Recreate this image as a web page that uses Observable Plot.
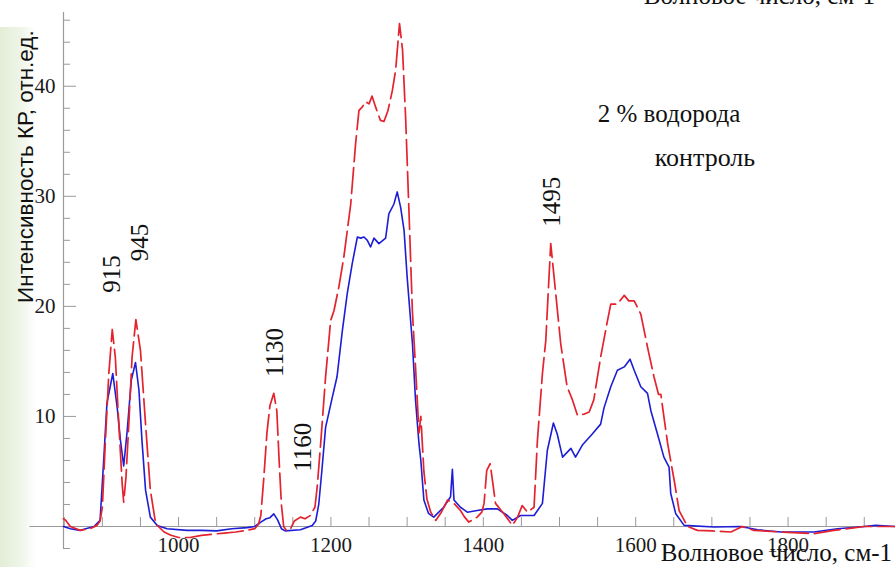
<!DOCTYPE html>
<html><head><meta charset="utf-8">
<script src="https://cdn.jsdelivr.net/npm/d3@7"></script>
<script src="https://cdn.jsdelivr.net/npm/@observablehq/plot@0.6"></script>
<style>
html,body{margin:0;padding:0;background:#fff;overflow:hidden}
#wrap{position:relative;width:895px;height:567px}
#tint{position:absolute;left:0;top:27px;width:36px;height:540px;background:linear-gradient(to right,#e3edd6,#eef5e8 55%,#ffffff)}
#chart{position:absolute;left:0;top:0}
</style></head><body>
<div id="wrap"><div id="tint"></div><div id="chart"></div></div>
<script>
// 2 % водорода (red, dashed)
const redWave = [849,852,858,871,884,893,897,900,904,908.5,913,917,921.6,926,928,931,934.7,939,944,950,956.7,963,970,981,990,1000,1015,1030,1045,1060,1075,1090,1100,1105,1108,1112,1116,1120,1125,1129,1132,1135,1138,1142,1147,1152,1160,1166,1173,1179,1182,1186.5,1193,1199.6,1204,1210.5,1217,1226,1232.4,1236.8,1241,1245.6,1250,1254,1258.7,1265,1269.6,1274.9,1280.6,1285,1290,1294,1298,1302.4,1306.9,1311,1315.6,1318,1322,1326,1331,1337.5,1345,1353,1361.5,1370,1375,1381,1392,1398,1401,1404.5,1409,1412,1416,1427,1433,1438,1445,1451,1458,1466.6,1471,1477.6,1482,1485,1488.5,1495,1501.6,1510,1517,1523.6,1532,1539,1545,1554,1563,1567.3,1576,1585,1591,1598,1606.7,1615.5,1624,1630,1633,1642,1650.5,1657,1668,1681,1700,1725,1740,1755,1790,1834,1860,1900,1941];
const redInt  = [0.7,0.55,0,-0.35,-0.2,0.1,0.5,1.75,7.8,13.9,17.9,15.4,9.3,3.9,2.2,4.5,9.3,15.4,18.8,16,9.3,3.3,0.25,-0.5,-0.8,-1,-1,-0.8,-0.7,-0.6,-0.5,-0.35,-0.2,0.2,1,4.5,8.5,11,12.1,10.5,6,2,0,-0.4,-0.2,0.5,0.85,0.7,1,1.75,3.6,7.5,13.6,18.7,19.6,21.8,24.5,29.3,34.8,37.8,38.1,38.6,38.4,39.1,38.1,36.9,36.8,37.8,39.6,41.5,45.7,43.3,37.2,28.7,19.6,14.5,8.5,10,5,2.5,1.3,0.55,1.3,2.4,2.1,1.45,0.9,0.4,0.85,1.3,2.1,5.1,5.7,4.2,2.1,1.15,0.6,0.1,0.85,1.9,1.3,1.75,7.8,13.9,16.9,21,25.7,21.2,16.6,12.7,11.5,10.1,10.2,10.4,11.5,15.4,18.7,20.2,20.2,21,20.5,20.5,19.3,16.3,13.6,12,12,7.5,4.2,1.45,0,-0.35,-0.4,-0.5,0,-0.35,-0.5,-0.65,-0.35,0,0];
// контроль (blue, solid)
const blueWave = [849,858,871,889,897,902,906,913.7,919.5,923.8,928,932.6,938,943.5,948,952,956.7,963,972,985,1011,1030,1050,1070,1090,1100,1108,1115,1120,1125,1130,1135,1140,1160,1175.5,1180,1184,1188,1193,1202,1208,1215,1221.5,1228,1234.7,1239,1243.4,1247.8,1252,1256.5,1263,1271.8,1276,1282.7,1287,1291.5,1296,1300,1307,1311,1315.6,1318,1322,1328,1335,1348,1357,1359.4,1361.5,1370,1379,1392,1405,1418.5,1431.6,1438,1449,1466.6,1477.6,1484,1492,1497,1504,1515,1521,1530,1543,1554,1558.5,1567.3,1576,1585,1592.6,1598,1606.7,1615.5,1620,1628.6,1637,1643.8,1646,1652.6,1663.6,1703,1738,1760,1790.5,1834,1865,1900,1915,1941];
const blueInt  = [0,-0.2,-0.35,0,0.55,6.3,11.2,13.9,10.8,7.8,5.5,8.7,13.3,14.9,12.4,7.8,3.3,0.85,0.1,-0.2,-0.35,-0.35,-0.4,-0.2,-0.1,0,0.4,0.7,0.8,1.15,0.6,-0.2,-0.4,-0.3,0.1,0.5,2,5,9,11.8,13.6,17.8,21.2,23.9,26.3,26.2,26.3,26,25.4,26.2,25.7,26.2,28.4,29.3,30.4,29,26.9,22.7,16.6,11.5,7.5,6,2.4,1.2,0.85,1.75,2.7,5.2,2.4,1.75,1.3,1.45,1.6,1.6,1,0.55,1,1,2.1,6.9,9.4,8.4,6.3,7.1,6.3,7.4,8.4,9.3,10.8,12.7,14.2,14.5,15.2,14.2,12.7,12.1,10.5,8.4,6.3,5.4,3,1.15,0.1,-0.05,0,-0.3,-0.5,-0.5,-0.2,0,0.1,0];

// axis ticks
const yMajor = [10, 20, 30, 40];
const yMinor = [-2, 2, 4, 6, 8, 12, 14, 16, 18, 22, 24, 26, 28, 32, 34, 36, 38, 42, 44, 46];
const xTicks = d3.range(850, 1901, 50);
const xLabels = [1000, 1200, 1400, 1600, 1800];

// peak annotations
const peakNames = ["915", "945", "1130", "1160", "1495"];
const peakWave  = [913.3, 948.8, 1126, 1162.8, 1489.8];
const peakInt   = [22.95, 25.8, 15.8, 7.2, 29.5];

const redData = redWave.map((w, i) => ({w, v: redInt[i]}));
const blueData = blueWave.map((w, i) => ({w, v: blueInt[i]}));
const peaks = peakNames.map((t, i) => ({t, w: peakWave[i], v: peakInt[i]}));

const serif = "'Liberation Serif', 'Times New Roman', serif";
const axisGray = "#9a9a9a";

const chart = Plot.plot({
  width: 895, height: 567,
  marginLeft: 63, marginRight: 0, marginTop: 12, marginBottom: 19,
  x: {domain: [849, 1941]},
  y: {domain: [-2, 46.7]},
  style: {background: "transparent", overflow: "visible", fontFamily: serif, fontSize: "21px", color: "#1a1a1a"},
  marks: [
    Plot.ruleX([849], {stroke: axisGray, strokeWidth: 1.2}),
    Plot.ruleY([0], {x1: 805, x2: 1941, stroke: axisGray, strokeWidth: 1.2}),
    Plot.axisY({ticks: yMajor, tickSize: 13, dx: 13, tickFormat: () => "", stroke: axisGray, label: null}),
    Plot.axisY({ticks: yMinor, tickSize: 7, dx: 7, tickFormat: () => "", stroke: axisGray, label: null}),
    Plot.axisY({ticks: yMajor, tickSize: 0, tickPadding: 8, tickFormat: d => String(d), fontSize: 21, fontFamily: serif, label: null}),
    Plot.axisX({ticks: xTicks, tickSize: 9, dy: -31, tickFormat: () => "", stroke: axisGray, label: null}),
    Plot.axisX({ticks: xLabels, tickSize: 0, tickPadding: 0, dy: -11, tickFormat: d => String(d), fontSize: 21, fontFamily: serif, label: null}),
    Plot.line(blueData, {x: "w", y: "v", stroke: "#1d1dd6", strokeWidth: 1.6}),
    Plot.line(redData, {x: "w", y: "v", stroke: "#e3232e", strokeWidth: 1.7, strokeDasharray: "26,6"}),
    Plot.text(peaks, {x: "w", y: "v", text: "t", rotate: -90, fontSize: 25, fontFamily: serif, fill: "#111"}),
    Plot.text(["2 % водорода"], {x: 1550.2, y: 37.5, text: d => d, textAnchor: "start", fontSize: 25, fontFamily: serif, fill: "#111"}),
    Plot.text(["контроль"], {x: 1625, y: 33.5, text: d => d, textAnchor: "start", fontSize: 26, fontFamily: serif, fill: "#111"}),
    Plot.text(["Волновое число, см-1"], {x: 1610.6, y: 48.2, text: d => d, textAnchor: "start", fontSize: 25, fontFamily: serif, fill: "#111"}),
    Plot.text(["Волновое число, см-1"], {x: 1633, y: -2.45, text: d => d, textAnchor: "start", fontSize: 25, fontFamily: serif, fill: "#111"}),
    Plot.text(["Интенсивность КР, отн.ед."], {frameAnchor: "left", dx: -38, y: 32.7, text: d => d, textAnchor: "middle", rotate: -90, fontSize: 22.5, fontFamily: "'Liberation Sans', Arial, sans-serif", fill: "#111"})
  ]
});
document.getElementById("chart").appendChild(chart);
</script>
</body></html>
